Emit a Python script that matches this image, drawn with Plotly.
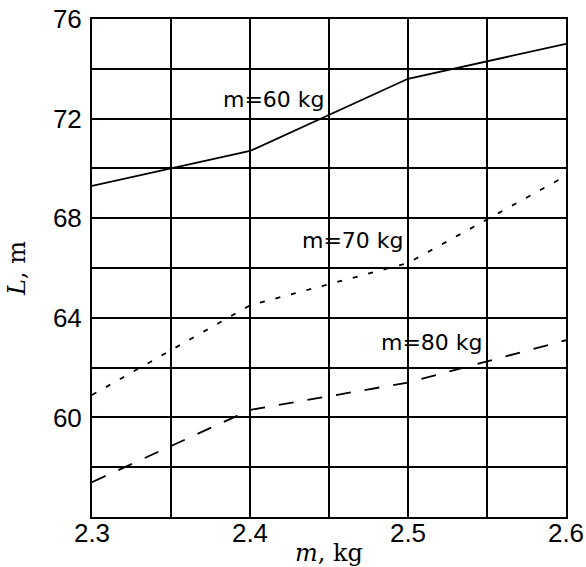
import plotly.graph_objects as go

# Flight distance L versus mass m for three jumper masses
mass_kg = [2.3, 2.4, 2.5, 2.6]
L_60 = [69.3, 70.7, 73.6, 75.0]
L_70 = [60.9, 64.5, 66.2, 69.7]
L_80 = [57.4, 60.3, 61.4, 63.1]

series = [
    ("m=60 kg", L_60, "solid", 2.4155, 72.75),
    ("m=70 kg", L_70, "5px,11px", 2.4649, 67.12),
    ("m=80 kg", L_80, "15px,14px", 2.5155, 62.99),
]

x_grid = [2.3, 2.35, 2.4, 2.45, 2.5, 2.55, 2.6]
x_text = ["2.3", "", "2.4", "", "2.5", "", "2.6"]
y_grid = [56, 58, 60, 62, 64, 66, 68, 70, 72, 74, 76]
y_text = ["", "", "60", "", "64", "", "68", "", "72", "", "76"]

fig = go.Figure()
annotations = []
for name, ys, dash, lx, ly in series:
    fig.add_trace(go.Scatter(
        x=mass_kg, y=ys, mode="lines", name=name,
        line=dict(color="black", width=1.8, dash=dash),
        showlegend=False,
    ))
    annotations.append(dict(
        x=lx, y=ly, xref="x", yref="y", text=name, showarrow=False,
        font=dict(family="DejaVu Sans", size=22, color="black"),
        xanchor="center", yanchor="middle",
    ))

fig.update_layout(
    width=586, height=567,
    margin=dict(l=92, r=20, t=19, b=50, autoexpand=False),
    paper_bgcolor="white", plot_bgcolor="white",
    annotations=annotations,
    xaxis=dict(
        range=[2.3, 2.6], tickvals=x_grid, ticktext=x_text,
        showgrid=True, gridcolor="black", gridwidth=1.5,
        showline=True, linecolor="black", linewidth=2, mirror=True,
        ticks="", zeroline=False, automargin=False, ticklabelstandoff=-8,
        tickfont=dict(family="Liberation Sans", size=26, color="black"),
        title=dict(text="<i>m</i>, kg", standoff=0,
                   font=dict(family="DejaVu Serif", size=24, color="black")),
    ),
    yaxis=dict(
        range=[56, 76], tickvals=y_grid, ticktext=y_text,
        showgrid=True, gridcolor="black", gridwidth=1.5,
        showline=True, linecolor="black", linewidth=2, mirror=True,
        ticks="", zeroline=False, automargin=False, ticklabelstandoff=3,
        tickfont=dict(family="Liberation Sans", size=26, color="black"),
        title=dict(text="<i>L</i>, m", standoff=20,
                   font=dict(family="DejaVu Serif", size=24, color="black")),
    ),
)

fig.write_html("out.html")
